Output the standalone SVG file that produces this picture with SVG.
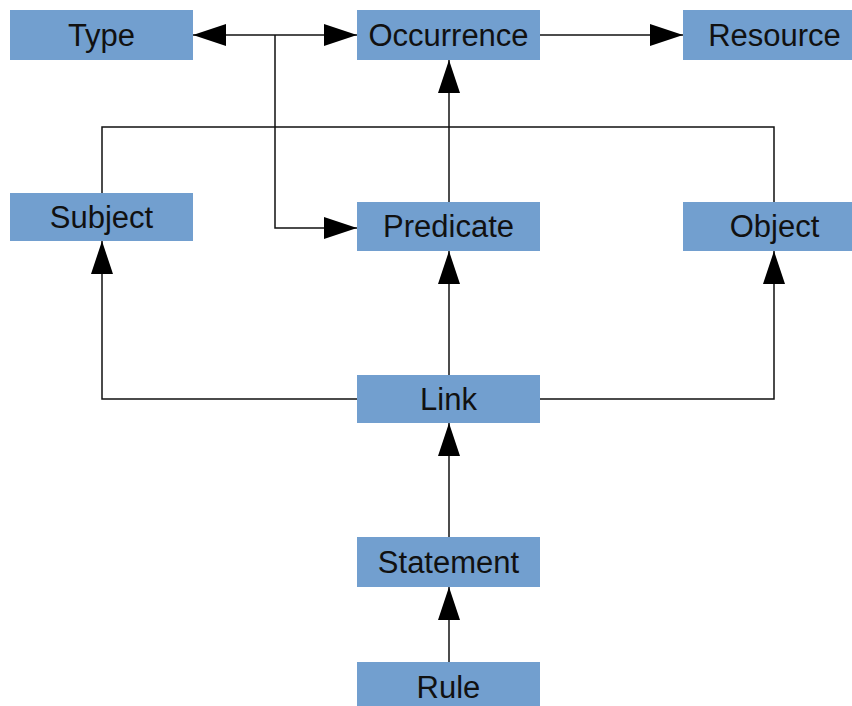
<svg xmlns="http://www.w3.org/2000/svg" width="852" height="706" viewBox="0 0 852 706">
<style>
.box{fill:#729fcf}
.lbl{font-family:"Liberation Sans",Arial,sans-serif;font-size:31px;fill:#111;text-anchor:middle}
.ln{fill:none;stroke:#111;stroke-width:1.5}
</style>
<defs>
<marker id="ah" markerUnits="userSpaceOnUse" markerWidth="34" markerHeight="22" refX="33" refY="11" orient="auto-start-reverse">
<path d="M0,0 L33,11 L0,22 z" fill="#000"/>
</marker>
</defs>
<rect width="852" height="706" fill="#fff"/>
<g id="connectors">
<path class="ln" d="M193,35 L357,35" marker-start="url(#ah)" marker-end="url(#ah)"/>
<path class="ln" d="M540,35 L683,35" marker-end="url(#ah)"/>
<path class="ln" d="M275,35 L275,228 L357,228" marker-end="url(#ah)"/>
<path class="ln" d="M102,193 L102,127 L774,127 L774,202"/>
<path class="ln" d="M449,202 L449,60" marker-end="url(#ah)"/>
<path class="ln" d="M449,375 L449,251" marker-end="url(#ah)"/>
<path class="ln" d="M357,399 L102,399 L102,241" marker-end="url(#ah)"/>
<path class="ln" d="M540,399 L774,399 L774,251" marker-end="url(#ah)"/>
<path class="ln" d="M449,537 L449,423" marker-end="url(#ah)"/>
<path class="ln" d="M449,662 L449,587" marker-end="url(#ah)"/>
</g>
<g id="type"><rect class="box" x="10" y="10" width="183" height="50"/><text class="lbl" x="101.5" y="46">Type</text></g>
<g id="occurrence"><rect class="box" x="357" y="10" width="183" height="50"/><text class="lbl" x="448.5" y="46">Occurrence</text></g>
<g id="resource"><rect class="box" x="683" y="10" width="183" height="50"/><text class="lbl" x="774.5" y="46">Resource</text></g>
<g id="subject"><rect class="box" x="10" y="193" width="183" height="48"/><text class="lbl" x="101.5" y="228">Subject</text></g>
<g id="predicate"><rect class="box" x="357" y="202" width="183" height="49"/><text class="lbl" x="448.5" y="237">Predicate</text></g>
<g id="object"><rect class="box" x="683" y="202" width="183" height="49"/><text class="lbl" x="774.5" y="237">Object</text></g>
<g id="link"><rect class="box" x="357" y="375" width="183" height="48"/><text class="lbl" x="448.5" y="410">Link</text></g>
<g id="statement"><rect class="box" x="357" y="537" width="183" height="50"/><text class="lbl" x="448.5" y="573">Statement</text></g>
<g id="rule"><rect class="box" x="357" y="662" width="183" height="50"/><text class="lbl" x="448.5" y="698">Rule</text></g>
</svg>
